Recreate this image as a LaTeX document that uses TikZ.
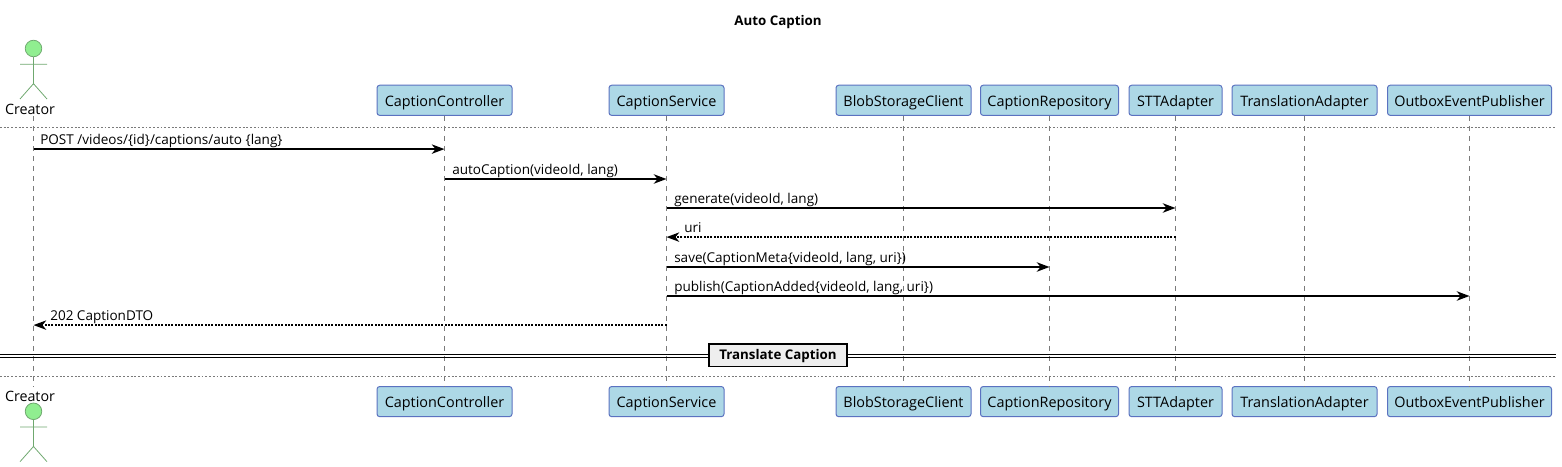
\documentclass[tikz,border=0pt]{standalone}
\usepackage{fontspec}
\setmainfont{Open Sans}
\usetikzlibrary{arrows.meta,calc}
\definecolor{partfill}{HTML}{ADD8E6}
\definecolor{partline}{HTML}{5B72C0}
\definecolor{actfill}{HTML}{90EE90}
\definecolor{actline}{HTML}{6FA86F}
\definecolor{lifeline}{HTML}{7A7A7A}
\definecolor{divfill}{HTML}{EEEEEE}
\tikzset{
  partbox/.style={draw=partline,fill=partfill,line width=0.75pt,rounded corners=2pt,minimum height=22.6pt,inner sep=0pt,text height=9pt,text depth=0pt,font=\fontsize{10.8pt}{12pt}\selectfont,text=black},
  life/.style={draw=lifeline,line width=0.55pt,dash pattern=on 3.75pt off 3.75pt},
  hsep/.style={draw=lifeline,line width=0.45pt,dash pattern=on 1.4pt off 1.4pt},
  call/.style={draw=black,line width=1.4pt,-{Stealth[length=9.5pt,width=7pt,inset=2.8pt]}},
  reply/.style={draw=black,line width=1.4pt,dash pattern=on 1.4pt off 1.1pt,-{Stealth[length=9.5pt,width=7pt,inset=2.8pt]}},
  msgtext/.style={anchor=base west,inner sep=0pt,font=\fontsize{10.15pt}{12pt}\selectfont,text=black},
  actorpart/.style={draw=actline,line width=0.6pt},
  actorhead/.style={circle,draw=actline,fill=actfill,line width=0.6pt,minimum size=12.4pt,inner sep=0pt},
  actorname/.style={inner sep=0pt,font=\fontsize{10.7pt}{13pt}\selectfont,text=black},
  divline/.style={draw=black,line width=1pt},
  divbox/.style={draw=black,fill=divfill,line width=1.3pt,inner sep=0pt,minimum width=103pt,minimum height=16.6pt,text height=7.5pt,text depth=0.5pt,font=\fontsize{10pt}{12pt}\selectfont\bfseries,text=black},
}
\newcommand{\partic}[4]{%
  \node[partbox,minimum width=#3*0.75pt] (#1t) at (#2,100.3) {#4};
  \node[partbox,minimum width=#3*0.75pt] (#1b) at (#2,401.6) {#4};
  \draw[life] (#1t.south) -- (#1b.north);
}
\newcommand{\msgline}[6]{% style, from, to, y, text x, text
  \draw[#1] (#2 |- 0,#4) -- (#3 |- 0,#4);
  \node[msgtext] at (#5,#4-4.3) {#6};
}
\begin{document}
\begin{tikzpicture}[x=0.75pt,y=-0.75pt]
\useasboundingbox (0,0) rectangle (1562,467);
\node[anchor=base,inner sep=0pt,font=\fontsize{10pt}{12pt}\selectfont\bfseries] (title) at (778,25.5) {Auto Caption};

% actors
\node[actorname] (creatorT) at (30,109.5) {Creator};
\node[actorname] (creatorB) at (30,396) {Creator};
\coordinate (lifeTop) at (33.5,116);
\coordinate (lifeBot) at (33.5,387);
\draw[life] (lifeTop) -- (lifeBot);
\node[actorhead] (headT) at (33.5,48.5) {};
\node[actorhead] (headB) at (33.5,411.3) {};
\draw[actorpart] (headT.south) -- ++(0,26.5) coordinate (hipT) (20,64.3) -- (47,64.3) (20,99) -- (hipT) -- (47,99);
\draw[actorpart] (headB.south) -- ++(0,26.5) coordinate (hipB) (20,427) -- (47,427) (20,461.7) -- (hipB) -- (47,461.7);

% participants
\partic{cc}{444.5}{135}{CaptionController}
\partic{cs}{666.5}{115}{CaptionService}
\partic{bs}{903.5}{135}{BlobStorageClient}
\partic{rp}{1049.5}{138}{CaptionRepository}
\partic{st}{1175.5}{93}{STTAdapter}
\partic{tr}{1304.5}{145}{TranslationAdapter}
\partic{ob}{1469.5}{164}{OutboxEventPublisher}

% horizontal separators
\coordinate (sl1) at (0,127.5); \coordinate (sr1) at (1556,127.5);
\coordinate (sl2) at (0,376.6); \coordinate (sr2) at (1556,376.6);
\draw[hsep] (sl1) -- (sr1);
\draw[hsep] (sl2) -- (sr2);

% messages
\msgline{call}{lifeTop}{cct.south}{149.1}{40}{POST /videos/\{id\}/captions/auto \{lang\}}
\msgline{call}{cct.south}{cst.south}{179}{452}{autoCaption(videoId, lang)}
\msgline{call}{cst.south}{stt.south}{208}{674}{generate(videoId, lang)}
\msgline{reply}{stt.south}{cst.south}{237.1}{684}{uri}
\msgline{call}{cst.south}{rpt.south}{267}{674}{save(CaptionMeta\{videoId, lang, uri\})}
\msgline{call}{cst.south}{obt.south}{296}{674}{publish(CaptionAdded\{videoId, lang, uri\})}
\msgline{reply}{cst.south}{lifeTop}{325.1}{50}{202 CaptionDTO}

% divider
\coordinate (dl1) at (0,354.4); \coordinate (dr1) at (1556,354.4);
\coordinate (dl2) at (0,357.4); \coordinate (dr2) at (1556,357.4);
\draw[divline] (dl1) -- (dr1);
\draw[divline] (dl2) -- (dr2);
\node[divbox] (divider) at (778,355.3) {Translate Caption};
\end{tikzpicture}
\end{document}
